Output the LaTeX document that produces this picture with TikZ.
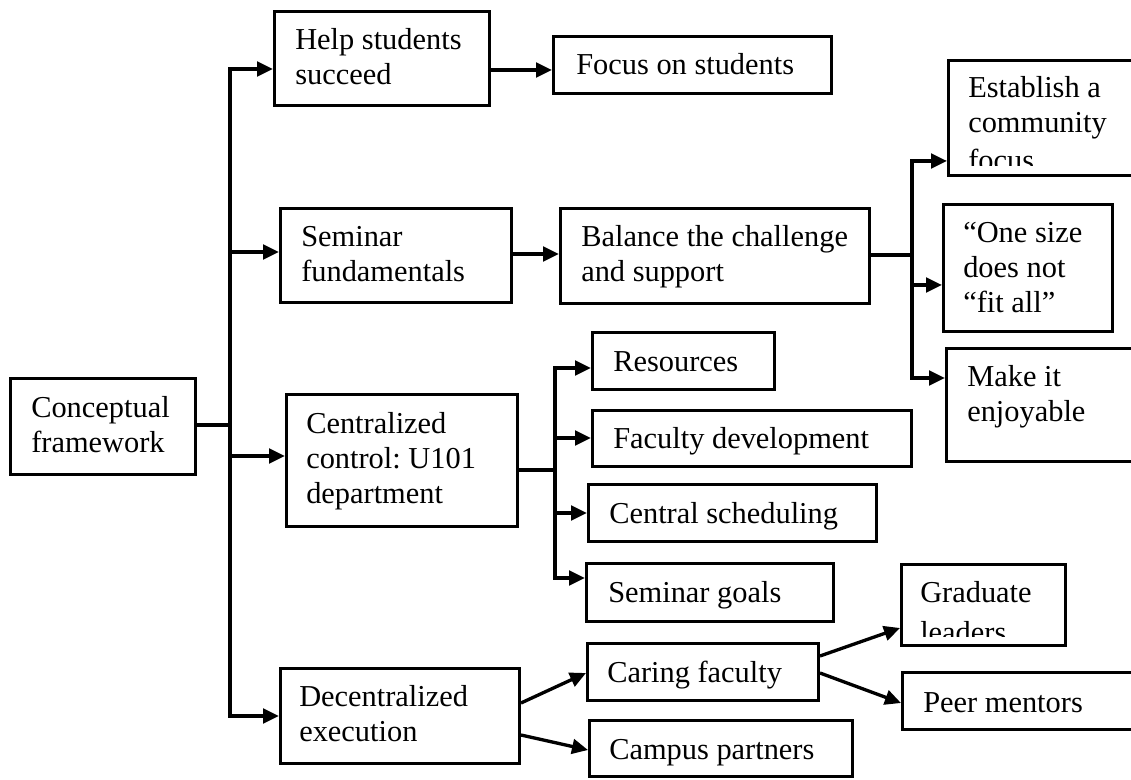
\documentclass[tikz,border=0pt]{standalone}
\usepackage{fontspec}
\setmainfont{Liberation Serif}
\usetikzlibrary{arrows.meta}
\frenchspacing
\tikzset{
 box/.style={draw=black, line width=2.5pt, inner sep=0pt, rectangle},
 txt/.style={anchor=base west, inner sep=0pt, font=\fontsize{22.8}{26.25}\selectfont},
 ln/.style={line width=2.5pt, line cap=rect},
 arr/.style={line width=2.5pt, -{Triangle[length=12pt,width=11pt]}},
}
\newcommand\mybox[5]{\node[box, minimum width={(#4-#2)*0.75pt-2.5pt}, minimum height={(#5-#3)*0.75pt-2.5pt}] (#1) at ({(#2+#4)/2},{(#3+#5)/2}) {};}
\newcommand\lns[1]{\begin{tabular}[t]{@{}l@{}}#1\end{tabular}}
\begin{document}
\begin{tikzpicture}[x=0.75pt,y=-0.75pt]
\useasboundingbox (0,0) rectangle (1131,780);
\clip (0,0) rectangle (1131,780);
% boxes
\mybox{concept}{9}{377}{197}{476}
\mybox{help}{273}{10}{491}{107}
\mybox{focus}{552}{35}{833}{95}
\mybox{seminar}{279}{207}{513}{304}
\mybox{balance}{559}{207}{871}{305}
\mybox{establish}{947}{59}{1150}{177}
\mybox{onesize}{942}{203}{1114}{333}
\mybox{makeit}{945}{347}{1150}{463}
\mybox{central}{285}{393}{519}{528}
\mybox{resources}{591}{331}{776}{391}
\mybox{facdev}{591}{409}{913}{468}
\mybox{sched}{587}{483}{878}{543}
\mybox{goals}{585}{562}{835}{623}
\mybox{decentral}{279}{667}{521}{765}
\mybox{caring}{586}{642}{820}{702}
\mybox{campus}{588}{719}{854}{778}
\mybox{graduate}{900}{563}{1067}{647}
\mybox{peer}{901}{671}{1150}{731}
% texts
\node[txt] (conceptT) at (31,417) {\lns{Conceptual\\framework}};
\node[txt] (helpT) at (295,50) {\lns{Help students\\succeed}};
\node[txt] (focusT) at (576,75) {Focus on students};
\node[txt] (seminarT) at (301,247) {\lns{Seminar\\fundamentals}};
\node[txt] (balanceT) at (581,247) {\lns{Balance the challenge\\and support}};
\begin{scope}
\clip (947,59) rectangle (1131,166);
\node[txt] (establishT) at (968,98) {\lns{Establish a\\community\\[2.25pt]focus}};
\end{scope}
\node[txt] (onesizeT) at (963,243) {\lns{“One size\\does not\\“fit all”}};
\node[txt] (makeitT) at (967,387) {\lns{Make it\\enjoyable}};
\node[txt] (centralT) at (306,433) {\lns{Centralized\\control: U101\\department}};
\node[txt] (resourcesT) at (613,372) {Resources};
\node[txt] (facdevT) at (613,448) {Faculty development};
\node[txt] (schedT) at (609,523) {Central scheduling};
\node[txt] (goalsT) at (608,602) {Seminar goals};
\node[txt] (decentralT) at (299,706) {\lns{Decentralized\\execution}};
\node[txt] (caringT) at (607,682) {Caring faculty};
\node[txt] (campusT) at (609,759) {Campus partners};
\begin{scope}
\clip (900,563) rectangle (1067,636);
\node[txt] (graduateT) at (920,602) {\lns{Graduate\\[3.75pt]leaders}};
\end{scope}
\node[txt] (peerT) at (923,712) {Peer mentors};
% trunk
\coordinate (tTop) at (230,69);
\coordinate (tC) at (230,425);
\coordinate (tS) at (230,252);
\coordinate (tZ) at (230,456);
\coordinate (tBot) at (230,716);
\draw[ln] (concept.east |- tC) -- (tC);
\draw[ln] (tTop) -- (tBot);
\draw[arr] (tTop) -- (help.west |- tTop);
\draw[arr] (tS) -- (seminar.west |- tS);
\draw[arr] (tZ) -- (central.west |- tZ);
\draw[arr] (tBot) -- (decentral.west |- tBot);
% help -> focus
\draw[arr] (help.east |- 0,70) -- (focus.west |- 0,70);
% seminar -> balance
\draw[arr] (seminar.east |- 0,254) -- (balance.west |- 0,254);
% balance branch
\coordinate (bJ) at (912,255);
\coordinate (bT) at (912,161);
\coordinate (bM) at (912,285);
\coordinate (bB) at (912,378);
\draw[ln] (balance.east |- bJ) -- (bJ);
\draw[ln] (bT) -- (bB);
\draw[arr] (bT) -- (establish.west |- bT);
\draw[arr] (bM) -- (onesize.west |- bM);
\draw[arr] (bB) -- (makeit.west |- bB);
% centralized branch
\coordinate (cJ) at (555,470);
\coordinate (c1) at (555,368);
\coordinate (c2) at (555,438);
\coordinate (c3) at (555,513);
\coordinate (c4) at (555,578);
\draw[ln] (central.east |- cJ) -- (cJ);
\draw[ln] (c1) -- (c4);
\draw[arr] (c1) -- (resources.west |- c1);
\draw[arr] (c2) -- (facdev.west |- c2);
\draw[arr] (c3) -- (sched.west |- c3);
\draw[arr] (c4) -- (goals.west |- c4);
% decentralized
\draw[arr] (decentral.east |- 0,703) -- (caring.west |- 0,673);
\draw[arr] (decentral.east |- 0,735) -- (campus.west |- 0,750);
% caring
\draw[arr] (caring.east |- 0,656) -- (graduate.west |- 0,628);
\draw[arr] (caring.east |- 0,673) -- (peer.west |- 0,703);
\end{tikzpicture}
\end{document}
